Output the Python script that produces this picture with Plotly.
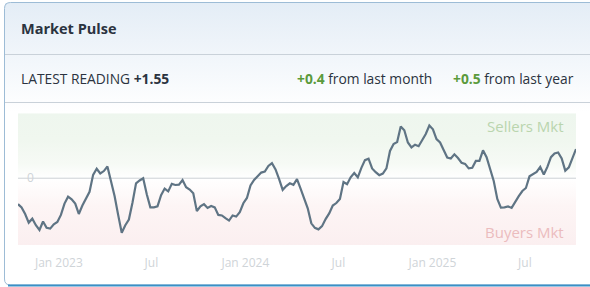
import pandas as pd
import plotly.graph_objects as go

# ---------------- data ----------------
start_date = "2022-10-13"
pulse_values = [
    -1.38, -1.55, -1.90, -2.36, -2.15, -2.50, -2.75, -2.30, -2.63, -2.68,
    -2.45, -2.33, -1.95, -1.35, -0.98, -1.12, -1.35, -1.90, -1.45, -1.05,
    -0.72, 0.18, 0.50, 0.25, 0.38, 0.62, -0.20, -0.95, -1.95, -2.90,
    -2.50, -2.20, -1.30, -0.27, -0.12, 0.00, -0.85, -1.55, -1.55, -1.50,
    -0.90, -0.55, -0.70, -0.30, -0.36, -0.34, -0.10, -0.48, -0.60, -0.80,
    -1.75, -1.50, -1.38, -1.58, -1.48, -1.55, -1.95, -1.98, -2.12, -2.25,
    -1.98, -2.04, -1.80, -1.33, -1.05, -0.38, -0.09, 0.10, 0.30, 0.35,
    0.65, 0.80, 0.47, -0.05, -0.62, -0.42, -0.27, -0.35, -0.05, -0.55,
    -1.10, -1.60, -2.40, -2.64, -2.72, -2.55, -2.17, -1.87, -1.45, -1.32,
    -1.10, -0.20, -0.32, 0.05, 0.28, 0.05, 0.55, 0.96, 1.04, 0.52,
    0.32, 0.16, 0.25, 0.52, 1.45, 1.82, 1.92, 2.75, 2.55, 1.90,
    1.64, 1.78, 1.70, 2.04, 2.35, 2.80, 2.60, 2.08, 1.90, 1.50,
    1.10, 1.05, 1.27, 1.07, 0.82, 0.76, 0.52, 0.55, 0.92, 0.92,
    1.48, 1.12, 0.45, -0.15, -1.10, -1.56, -1.55, -1.50, -1.58, -1.24,
    -0.95, -0.68, -0.52, 0.10, 0.20, 0.33, 0.60, 0.20, 0.60, 1.12,
    1.32, 1.37, 1.05, 0.40, 0.58, 1.08, 1.55,
]
dates = pd.date_range(start_date, periods=len(pulse_values), freq="7D")

tick_dates = ["2023-01-01", "2023-07-01", "2024-01-01", "2024-07-01", "2025-01-01", "2025-07-01"]
tick_labels = ["Jan 2023", "Jul", "Jan 2024", "Jul", "Jan 2025", "Jul"]

title_text = "Market Pulse"
latest_label = "LATEST READING"
change_month = "+0.4"
change_year = "+0.5"
zone_top, zone_bottom = 3.45, -3.55

W, H = 590, 287
FONT = "Open Sans"
GREEN = "#5b9a3c"
DARK = "#2b3340"

fig = go.Figure()

# background gradient of the chart area
fig.add_trace(go.Scatter(
    x=[dates[0], dates[-1], dates[-1], dates[0], dates[0]],
    y=[zone_bottom, zone_bottom, zone_top, zone_top, zone_bottom],
    fill="toself", mode="lines", line=dict(width=0),
    fillgradient=dict(type="vertical", colorscale=[
        [0.0, "#fbeff0"], [0.30, "#fdf5f5"], [0.50, "#ffffff"],
        [0.62, "#f6faf5"], [0.80, "#f0f7ef"], [1.0, "#eef6ee"]]),
    hoverinfo="skip", showlegend=False, xaxis="x", yaxis="y"))

# zero reference line
fig.add_trace(go.Scatter(
    x=[dates[0], dates[-1]], y=[0, 0], mode="lines",
    line=dict(color="#cdd1d5", width=1), hoverinfo="skip", showlegend=False))

# main series
fig.add_trace(go.Scatter(
    x=dates, y=pulse_values, mode="lines",
    line=dict(color="#5f7484", width=2.2), showlegend=False))

# header gradient on full-figure pixel axes
fig.add_trace(go.Scatter(
    x=[5, 600, 600, 5, 5], y=[3, 3, 112, 112, 3],
    fill="toself", mode="lines", line=dict(width=0),
    fillgradient=dict(type="vertical", colorscale=[
        [0.0, "#ffffff"], [0.55, "#f0f5fa"], [1.0, "#e4edf6"]]),
    hoverinfo="skip", showlegend=False, xaxis="x2", yaxis="y2"))

shapes = []
r = 6
shapes.append(dict(
    type="path", xref="x2", yref="y2", layer="above",
    path=f"M 600 2.5 L {4.5 + r} 2.5 Q 4.5 2.5 4.5 {2.5 + r} L 4.5 {285 - r} Q 4.5 285 {4.5 + r} 285 L 600 285",
    line=dict(color="#9dbcd6", width=1)))
shapes.append(dict(type="line", xref="x2", yref="y2", layer="above",
                   x0=8, x1=600, y0=285.5, y1=285.5, line=dict(color="#3b8fc6", width=2)))
for yy in (54.5, 102.5):
    shapes.append(dict(type="line", xref="x2", yref="y2", layer="above",
                       x0=5, x1=600, y0=yy, y1=yy, line=dict(color="#c9d1d9", width=1)))

annotations = [
    dict(text=f"<b>{title_text}</b>", x=19, y=28, xref="x2", yref="y2",
         xanchor="left", yanchor="middle", showarrow=False,
         font=dict(family=FONT, size=14.5, color=DARK)),
    dict(text=f"{latest_label} <b>{pulse_values[-1]:+.2f}</b>", x=19, y=78, xref="x2", yref="y2",
         xanchor="left", yanchor="middle", showarrow=False,
         font=dict(family=FONT, size=13.8, color=DARK)),
    dict(text=f"<span style='color:{GREEN}'><b>{change_month}</b></span> from last month",
         x=434, y=78, xref="x2", yref="y2", xanchor="right", yanchor="middle", showarrow=False,
         font=dict(family=FONT, size=13.8, color=DARK)),
    dict(text=f"<span style='color:{GREEN}'><b>{change_year}</b></span> from last year",
         x=576, y=78, xref="x2", yref="y2", xanchor="right", yanchor="middle", showarrow=False,
         font=dict(family=FONT, size=13.8, color=DARK)),
    dict(text="Sellers Mkt", x=566, y=126, xref="x2", yref="y2", xanchor="right",
         yanchor="middle", showarrow=False, font=dict(family=FONT, size=15, color="#bad5ae")),
    dict(text="Buyers Mkt", x=566, y=232, xref="x2", yref="y2", xanchor="right",
         yanchor="middle", showarrow=False, font=dict(family=FONT, size=15, color="#ebbcbe")),
]

fig.update_layout(
    width=W, height=H, margin=dict(l=0, r=0, t=0, b=0),
    paper_bgcolor="white", plot_bgcolor="rgba(0,0,0,0)",
    font=dict(family=FONT),
    xaxis=dict(domain=[18 / W, 576 / W], range=[dates[0], dates[-1]], type="date",
               tickvals=tick_dates, ticktext=tick_labels, showgrid=False, zeroline=False,
               showline=False, ticks="", ticklabelstandoff=9,
               tickfont=dict(family=FONT, size=12, color="#cfd4d8"), anchor="y"),
    yaxis=dict(domain=[(H - 245) / H, (H - 113.3) / H], range=[zone_bottom, zone_top],
               tickvals=[0], ticktext=["0"], ticklabelposition="inside", ticklabelstandoff=6,
               showgrid=False, zeroline=False, showline=False, ticks="",
               tickfont=dict(family=FONT, size=12, color="#cfd4d8"), anchor="x"),
    xaxis2=dict(domain=[0, 1], range=[0, W], visible=False, anchor="y2", fixedrange=True),
    yaxis2=dict(domain=[0, 1], range=[H, 0], visible=False, anchor="x2", fixedrange=True),
    shapes=shapes, annotations=annotations, hovermode=False,
)

fig.write_html("out.html")
